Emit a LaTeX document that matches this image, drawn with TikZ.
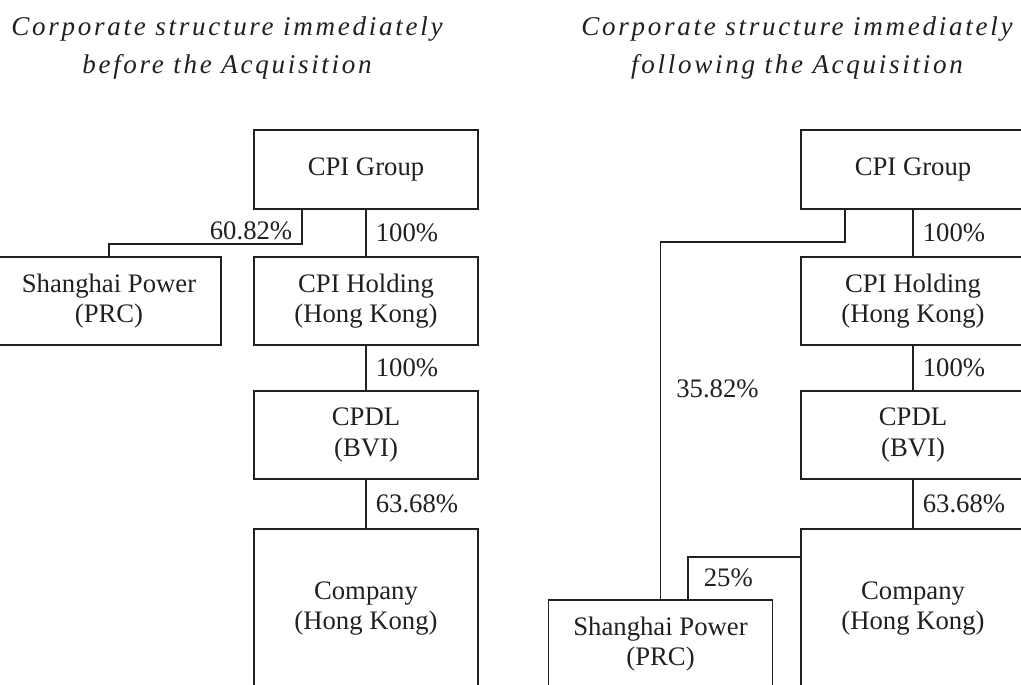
\documentclass[tikz,border=0pt]{standalone}
\usepackage{fontspec}
\setmainfont{Liberation Serif}
\newfontfamily\titlefont[LetterSpace=10]{Liberation Serif}
\usepackage{tikz}
\usetikzlibrary{positioning, calc}
\definecolor{inkcolor}{RGB}{35,31,32}

\begin{document}
\begin{tikzpicture}[
    box/.style={draw=inkcolor, rectangle, minimum width=4.48cm, minimum height=1.76cm, line width=0.9pt, align=center, text=inkcolor, font=\fontsize{15.2pt}{17.5pt}\selectfont},
    pct/.style={text=inkcolor, font=\fontsize{15.2pt}{17.5pt}\selectfont, inner sep=0.18cm},
    title/.style={align=center, text=inkcolor, font=\titlefont\itshape\fontsize{15.4pt}{21.5pt}\selectfont},
    link/.style={draw=inkcolor, line width=0.9pt}
]
    \useasboundingbox (0,0) rectangle (20.42,13.68);
    \clip (0,0) rectangle (20.42,13.68);

    % Titres
    \node[title] (titleL) at (4.54,12.72) {Corporate structure immediately\\before the Acquisition};
    \node[title] (titleR) at (15.94,12.72) {Corporate structure immediately\\following the Acquisition};

    % === Avant (gauche) ===
    \node[box, minimum height=1.58cm] (grpL) at (7.32,10.29) {CPI Group};
    \node[box] (holdL) at (7.32,7.66) {CPI Holding\\(Hong Kong)};
    \node[box] (cpdlL) at (7.32,4.98) {CPDL\\(BVI)};
    \node[box, minimum height=3.18cm] (coL) at (7.32,1.51) {Company\\(Hong Kong)};
    \node[box] (shL) at (2.18,7.66) {Shanghai Power\\(PRC)};

    \draw[link] (grpL) -- node[pct, right]{100\%} (holdL);
    \draw[link] (holdL) -- node[pct, right]{100\%} (cpdlL);
    \draw[link] (cpdlL) -- node[pct, right]{63.68\%} (coL);
    \draw[link] ([xshift=-1.28cm]grpL.south) -- node[pct, left, pos=0.62]{60.82\%} ++(0,-0.68) -| (shL.north);

    % === Apres (droite) ===
    \node[box, minimum height=1.58cm] (grpR) at (18.26,10.29) {CPI Group};
    \node[box] (holdR) at (18.26,7.66) {CPI Holding\\(Hong Kong)};
    \node[box] (cpdlR) at (18.26,4.98) {CPDL\\(BVI)};
    \node[box, minimum height=3.18cm] (coR) at (18.26,1.51) {Company\\(Hong Kong)};
    \node[box] (shR) at (13.21,0.80) {Shanghai Power\\(PRC)};

    \draw[link] (grpR) -- node[pct, right]{100\%} (holdR);
    \draw[link] (holdR) -- node[pct, right]{100\%} (cpdlR);
    \draw[link] (cpdlR) -- node[pct, right]{63.68\%} (coR);
    \draw[link] ([xshift=-1.36cm]grpR.south) |- ([yshift=7.14cm]shR.north)
        -- node[pct, right, pos=0.41, xshift=0.12cm]{35.82\%} (shR.north);
    \draw[link] ([yshift=-0.58cm]coR.north west) -| node[pct, right, pos=0.75, xshift=0.12cm]{25\%} ([xshift=0.55cm]shR.north);
\end{tikzpicture}
\end{document}
